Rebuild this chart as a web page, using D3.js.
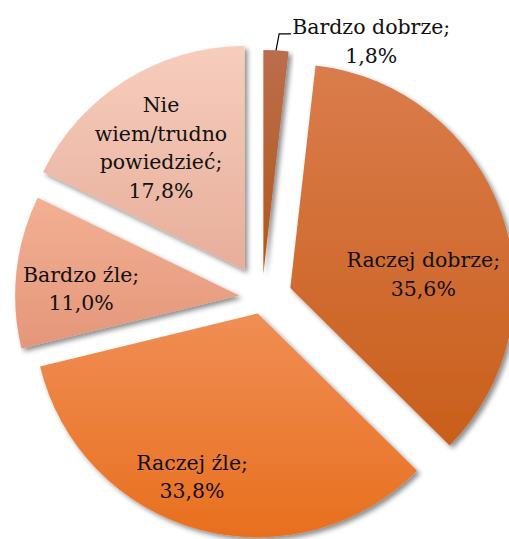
<!DOCTYPE html>
<html>
<head>
<meta charset="utf-8">
<script src="https://cdn.jsdelivr.net/npm/d3@7"></script>
<style>
  html, body { margin: 0; padding: 0; background: #fff; }
  svg { display: block; }
  .label { font-family: "DejaVu Serif", serif; font-size: 20.5px; fill: #111; }
</style>
</head>
<body>
<div id="chart"></div>
<script>
// data
const categories = ['Bardzo dobrze', 'Raczej dobrze', 'Raczej źle', 'Bardzo źle', 'Nie wiem/trudno powiedzieć'];
const values = [1.8, 35.6, 33.8, 11.0, 17.8];
// how each category name wraps inside its label
const nameLines = [['Bardzo dobrze;'], ['Raczej dobrze;'], ['Raczej źle;'], ['Bardzo źle;'], ['Nie', 'wiem/trudno', 'powiedzieć;']];

// styles
const topColors = ['#bb6e4c', '#da7c4c', '#f08e55', '#f3b093', '#f7cdbd'];
const bottomColors = ['#b3561a', '#c95f1b', '#e86f1e', '#e4967a', '#e7ae9a'];
const explode = [24, 30, 16, 23, 33];          // px each slice is pulled out
const labelShift = [21.6, 13.6, 6.4, -3.7, -2.3]; // degrees from slice middle
const labelDist = [1.146, 0.597, 0.787, 0.706, 0.661]; // fraction of radius

const width = 509;
const height = 539;
const cx = 262;
const cy = 298;
const radius = 224;
const lineHeight = 28.5;

const svg = d3.select('#chart').append('svg')
    .attr('width', width)
    .attr('height', height);

const defs = svg.append('defs');

const shadow = defs.append('filter')
    .attr('id', 'shadow')
    .attr('x', '-20%').attr('y', '-20%')
    .attr('width', '140%').attr('height', '140%');
shadow.append('feDropShadow')
    .attr('dx', 3).attr('dy', 3)
    .attr('stdDeviation', 2.5)
    .attr('flood-color', '#000')
    .attr('flood-opacity', 0.45);

values.forEach((v, i) => {
    const grad = defs.append('linearGradient')
        .attr('id', `grad${i}`)
        .attr('x1', 0).attr('y1', 0)
        .attr('x2', 0).attr('y2', 1);
    grad.append('stop').attr('offset', '0%').attr('stop-color', topColors[i]);
    grad.append('stop').attr('offset', '100%').attr('stop-color', bottomColors[i]);
});

const pie = d3.pie().sort(null).value(d => d);
const arcs = pie(values);

const arc = d3.arc()
    .innerRadius(0)
    .outerRadius(radius);

// point at angle a (radians, clockwise from 12 o'clock) and distance r
const polar = (a, r) => [Math.sin(a) * r, -Math.cos(a) * r];

const slices = svg.selectAll('.slice')
    .data(arcs)
    .enter().append('g')
    .attr('class', 'slice')
    .attr('transform', (d, i) => {
        const mid = (d.startAngle + d.endAngle) / 2;
        const [dx, dy] = polar(mid, explode[i]);
        return `translate(${cx + dx},${cy + dy})`;
    });

slices.append('path')
    .attr('d', arc)
    .attr('fill', (d, i) => `url(#grad${i})`)
    .attr('filter', 'url(#shadow)');

const fmt = v => d3.format('.1f')(v).replace('.', ',') + '%';

slices.each(function (d, i) {
    const g = d3.select(this);
    const mid = (d.startAngle + d.endAngle) / 2;
    const [lx, ly] = polar(mid + labelShift[i] * Math.PI / 180, labelDist[i] * radius);
    const lines = nameLines[i].concat([fmt(values[i])]);
    const firstY = ly - (lines.length - 1) / 2 * lineHeight;

    const text = g.append('text')
        .attr('class', 'label')
        .attr('text-anchor', 'middle');
    lines.forEach((t, k) => {
        text.append('tspan')
            .attr('x', lx)
            .attr('y', firstY + k * lineHeight)
            .attr('dy', '0.35em')
            .text(t);
    });

    // leader line for labels placed outside the pie
    if (labelDist[i] > 1) {
        const box = text.node().getBBox();
        const [ax, ay] = polar(mid, radius);
        const yLine = firstY + 7;
        g.append('polyline')
            .attr('points', [[ax, ay], [box.x - 13, yLine], [box.x - 1, yLine]].map(p => p.join(',')).join(' '))
            .attr('fill', 'none')
            .attr('stroke', '#000')
            .attr('stroke-width', 1.2);
    }
});
</script>
</body>
</html>
